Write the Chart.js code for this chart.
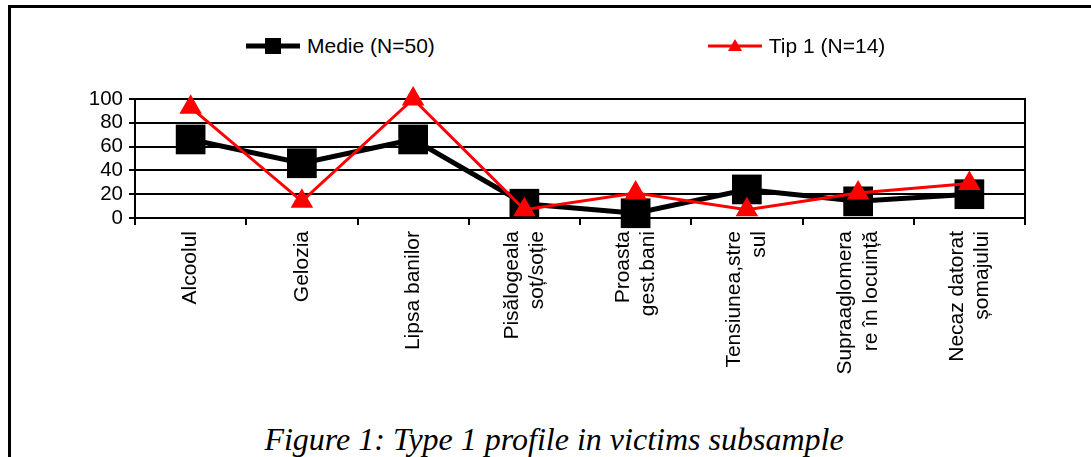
<!DOCTYPE html>
<html>
<head>
  <meta charset="utf-8">
  <script src="https://cdn.jsdelivr.net/npm/chart.js@4/dist/chart.umd.min.js"></script>
  <style>
    body { margin: 0; background: #fff; width: 1091px; height: 457px; overflow: hidden; position: relative; font-family: "Liberation Sans", Arial, sans-serif; }
    .frame { position: absolute; left: 8px; top: 5px; width: 1200px; height: 600px; border-left: 3px solid #000; border-top: 3px solid #000; }
    .chart-container { position: absolute; left: 0; top: 0; width: 1091px; height: 400px; }
    #legend { position: absolute; left: 246px; top: 34px; display: flex; gap: 273px; }
    .legend-item { display: flex; align-items: center; height: 24px; font-size: 21px; line-height: 24px; color: #000; }
    .legend-item span { margin-left: 7px; white-space: nowrap; }
    .caption { position: absolute; left: 0; width: 1108px; top: 423px; text-align: center; font-family: "Liberation Serif", "Times New Roman", serif; font-style: italic; font-size: 32px; line-height: 32px; color: #000; }
  </style>
</head>
<body>
  <div class="frame"></div>
  <div id="legend"></div>
  <div class="chart-container">
    <canvas id="chartCanvas"></canvas>
  </div>
  <div class="caption">Figure 1: Type 1 profile in victims subsample</div>

  <script>
    // Categories (multi-line labels as in the original)
    const categories = [
      'Alcoolul',
      'Gelozia',
      'Lipsa banilor',
      ['Pisălogeala', 'soț/soție'],
      ['Proasta', 'gest.bani'],
      ['Tensiunea,stre', 'sul'],
      ['Supraaglomera', 're în locuință'],
      ['Necaz datorat', 'șomajului']
    ];

    // Series values (%)
    const medieValues = [66, 46, 66, 12, 4, 24, 14, 20];
    const tip1Values = [93, 14, 100, 7, 21, 7, 21, 29];

    // Y axis ticks
    const yTicks = [0, 20, 40, 60, 80, 100];

    const FONT = { family: '"Liberation Sans", Arial, sans-serif', size: 21 };

    // Draw a small line + marker swatch for the html legend
    const drawSwatch = (dataset) => {
      const c = document.createElement('canvas');
      c.width = 54;
      c.height = 24;
      const g = c.getContext('2d');
      g.strokeStyle = dataset.borderColor;
      g.fillStyle = dataset.backgroundColor;
      g.lineWidth = dataset.borderWidth;
      g.beginPath();
      g.moveTo(0, 12);
      g.lineTo(54, 12);
      g.stroke();
      if (dataset.pointStyle === 'rect') {
        g.fillRect(19, 4, 16, 16);
      } else {
        g.beginPath();
        g.moveTo(27, 5);
        g.lineTo(34, 17);
        g.lineTo(20, 17);
        g.closePath();
        g.fill();
      }
      return c;
    };

    // Html legend built from the chart's datasets
    const htmlLegend = {
      id: 'htmlLegend',
      afterUpdate(chart) {
        const box = document.getElementById('legend');
        box.innerHTML = '';
        chart.data.datasets.forEach(ds => {
          const item = document.createElement('div');
          item.className = 'legend-item';
          item.appendChild(drawSwatch(ds));
          const text = document.createElement('span');
          text.textContent = ds.label;
          item.appendChild(text);
          box.appendChild(item);
        });
      }
    };

    // Center multi-line x labels on their category
    const centerMultiline = {
      id: 'centerMultiline',
      beforeDraw(chart) {
        const scale = chart.scales.x;
        const items = scale.getLabelItems(chart.chartArea);
        if (items._centered) return;
        items.forEach(item => {
          if (Array.isArray(item.label) && item.label.length > 1) {
            item.textOffset -= (item.label.length - 1) * item.font.lineHeight / 2;
          }
        });
        items._centered = true;
      }
    };

    const ctx = document.getElementById('chartCanvas').getContext('2d');

    new Chart(ctx, {
      type: 'line',
      data: {
        labels: categories,
        datasets: [
          {
            label: 'Medie (N=50)',
            data: medieValues,
            borderColor: '#000000',
            backgroundColor: '#000000',
            borderWidth: 5,
            pointStyle: 'rect',
            pointRadius: 21,
            pointHoverRadius: 21,
            pointBorderWidth: 0,
            tension: 0,
            clip: false,
            order: 2
          },
          {
            label: 'Tip 1 (N=14)',
            data: tip1Values,
            borderColor: '#ff0000',
            backgroundColor: '#ff0000',
            borderWidth: 3,
            pointStyle: 'triangle',
            pointRadius: 13,
            pointHoverRadius: 13,
            pointBorderWidth: 0,
            tension: 0,
            clip: false,
            order: 1
          }
        ]
      },
      options: {
        responsive: true,
        maintainAspectRatio: false,
        animation: false,
        events: [],
        layout: { padding: { top: 99, left: 0, right: 0, bottom: 0 } },
        plugins: {
          legend: { display: false },
          tooltip: { enabled: false }
        },
        scales: {
          x: {
            offset: true,
            grid: {
              display: true,
              offset: true,
              drawOnChartArea: false,
              tickLength: 7,
              color: '#000',
              lineWidth: 2
            },
            border: { display: true, color: '#000', width: 2 },
            ticks: {
              autoSkip: false,
              minRotation: 90,
              maxRotation: 90,
              padding: 6,
              color: '#000',
              font: FONT
            },
            afterFit: (scale) => { scale.height = 182; }
          },
          y: {
            min: 0,
            max: 100,
            grid: {
              color: '#000',
              lineWidth: 2,
              tickLength: 6
            },
            border: { display: true, color: '#000', width: 2 },
            ticks: {
              autoSkip: false,
              stepSize: 20,
              padding: 6,
              color: '#000',
              font: { family: FONT.family, size: 20.5 }
            },
            afterBuildTicks: (scale) => { scale.ticks = yTicks.map(v => ({ value: v })); },
            afterFit: (scale) => { scale.width = 135; }
          },
          y2: {
            position: 'right',
            min: 0,
            max: 100,
            grid: { display: false, drawTicks: false },
            border: { display: true, color: '#000', width: 2 },
            ticks: { display: false },
            afterFit: (scale) => { scale.width = 66; }
          }
        }
      },
      plugins: [htmlLegend, centerMultiline]
    });
  </script>
</body>
</html>
